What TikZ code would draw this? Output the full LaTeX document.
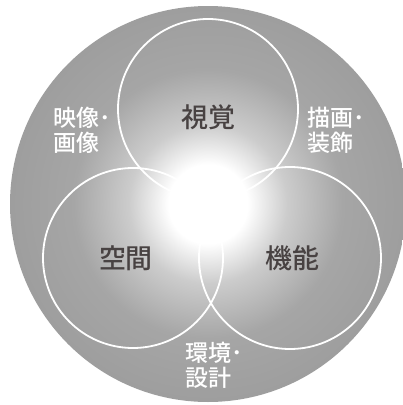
\documentclass[tikz,border=0pt]{standalone}
\usepackage{fontspec}
\newfontfamily\jpfont[UprightFont=* Medium]{Noto Sans CJK JP}
\definecolor{col1}{RGB}{72,66,66}
\pgfdeclareradialshading{glow}{\pgfpoint{0bp}{0bp}}{%
  color(0bp)=(white); color(5bp)=(white); color(10bp)=(black!20);
  color(17bp)=(black!35); color(30bp)=(black!40); color(42bp)=(black!45);
  color(46bp)=(black!34); color(48.5bp)=(black!12); color(50bp)=(white)}
\tikzstyle{venn}=[draw=white, line width=1.8pt]
\tikzstyle{area}=[text=col1, inner sep=0pt, font=\jpfont\fontsize{27}{29}\selectfont]
\tikzstyle{link}=[text=white, align=left, anchor=west, inner sep=0pt, font=\jpfont\fontsize{23}{25}\selectfont]

\begin{document}
\begin{tikzpicture}[x=1pt,y=-1pt]
    \useasboundingbox (0,0) rectangle (403,405);
    % background glow
    \shade[shading=glow] (208,204) circle (198);
    % three circles
    \draw[venn] (208,109) circle (90);
    \draw[venn] (133,258) circle (90);
    \draw[venn] (290,258) circle (91);
    % labels
    \node[area] (v) at (208,117) {視覚};
    \node[area] (s) at (126,258) {空間};
    \node[area] (k) at (292,258) {機能};
    \node[link] (vs) at (53,130) {映像･\\画像};
    \node[link] (vk) at (307,130) {描画･\\装飾};
    \node[link] (sk) at (185,365) {環境･\\設計};
\end{tikzpicture}
\end{document}
